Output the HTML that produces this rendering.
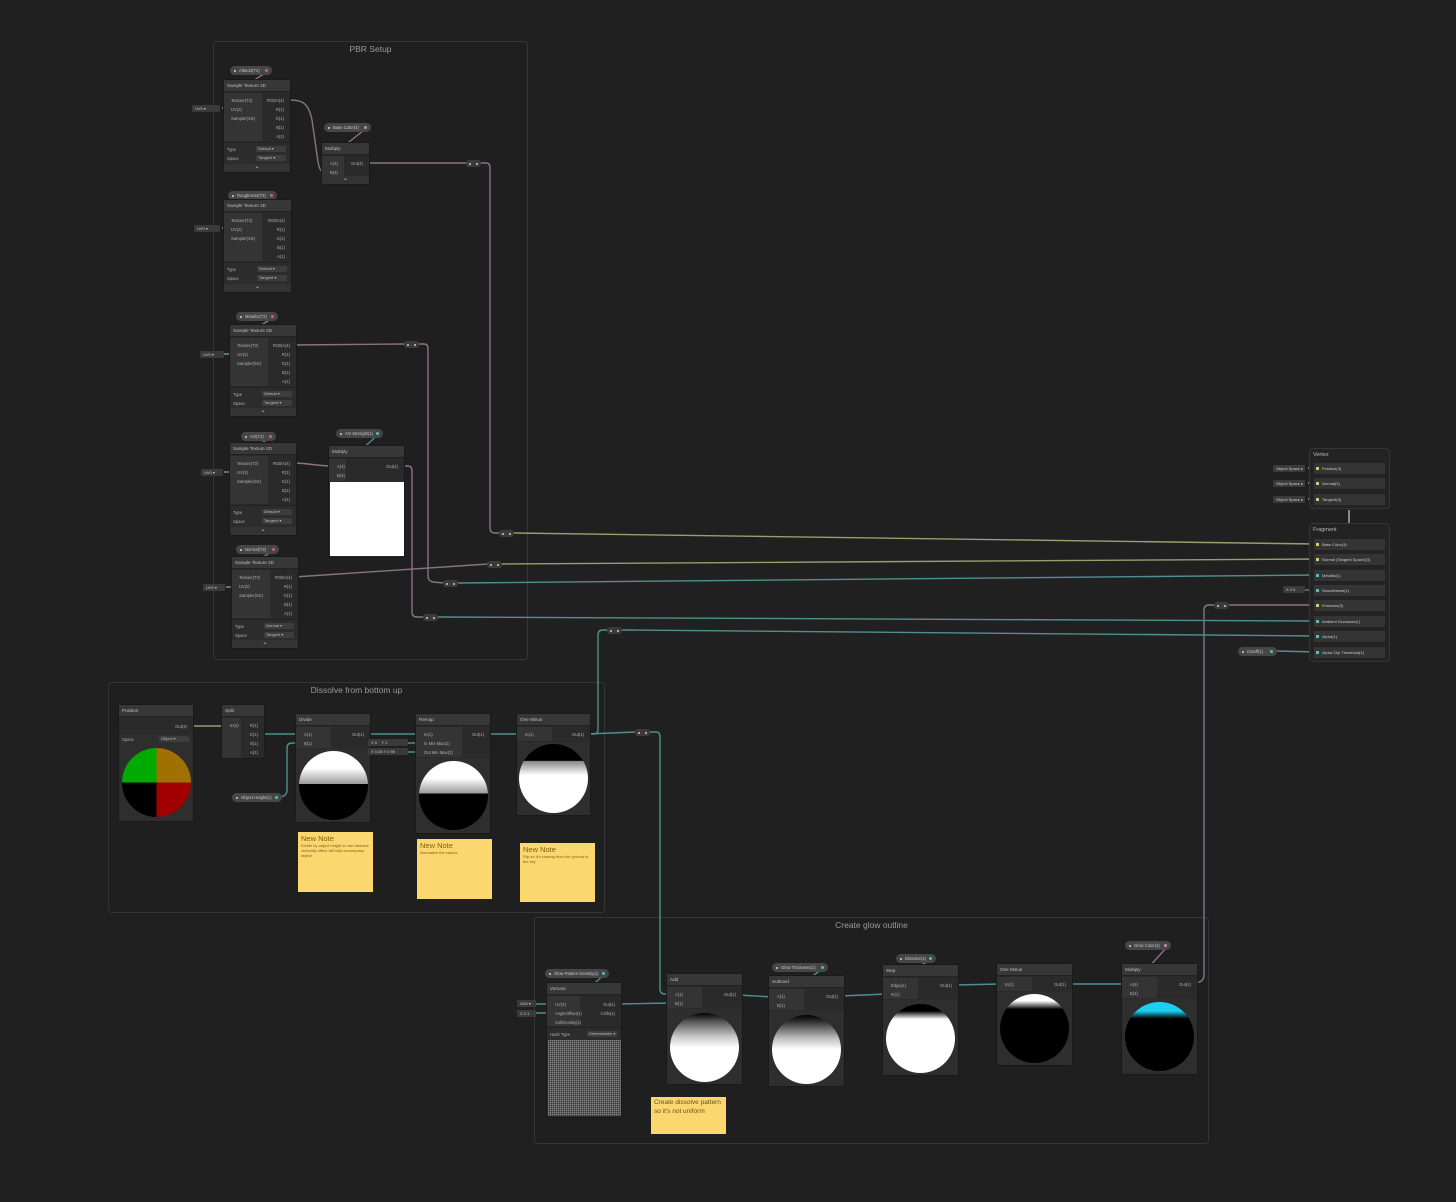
<!DOCTYPE html>
<html><head><meta charset="utf-8">
<style>
*{box-sizing:border-box;margin:0;padding:0}
body{width:1456px;height:1202px;background:#202020;position:relative;overflow:hidden;font-family:"Liberation Sans",sans-serif}
.g{position:absolute;border:1px solid #353535;border-radius:4px;background:#1f1f1f}
.g .gt{position:absolute;top:2px;left:0;right:0;text-align:center;color:#9a9a9a;font-size:8.5px}
.n{position:absolute;background:#2a2a2a;border-radius:2px;z-index:2;box-shadow:0 0 0 1px #191919}
.h{height:12px;background:#373737;color:#c0c0c0;font-size:4.6px;line-height:12px;padding-left:3px;border-bottom:1px solid #222}
.li{position:absolute;left:0;background:#343434}
.t{position:absolute;font-size:4.2px;color:#b0b0b0;white-space:nowrap;line-height:5px}
.r{text-align:right}
.opt{position:absolute;left:0;right:0;background:#2c2c2c;border-top:1px solid #222}
.dd{position:absolute;right:4px;width:30px;height:6px;background:#3d3d3d;border-radius:1px;font-size:4px;color:#bbb;line-height:6px;padding-left:2px}
.ch{position:absolute;left:0;right:0;bottom:0;height:8px;background:#333;color:#ccc;font-size:6px;text-align:center;line-height:7px}
.pl{position:absolute;height:9px;border-radius:4.5px;background:#464646;color:#c8c8c8;font-size:4.2px;line-height:9px;padding-left:9px;z-index:2;white-space:nowrap}
.pl:before{content:"";position:absolute;left:4px;top:3.5px;width:2px;height:2px;background:#8c8;}
.pl:after{content:"";position:absolute;right:4px;top:3px;width:3px;height:3px;border-radius:50%;background:var(--c,#c66)}
.v{position:absolute;height:7px;background:#3a3a3a;color:#ccc;font-size:4px;line-height:7px;padding-left:3px;z-index:2;border-radius:1px;white-space:nowrap}
.rr{position:absolute;width:15px;height:7px;background:#3b3b3b;border-radius:3px;z-index:2}
.rr:before,.rr:after{content:"";position:absolute;top:2.5px;width:2px;height:2px;background:#ccc;border-radius:50%}
.rr:before{left:3px}.rr:after{right:3px}
.pv{position:absolute;left:0;right:0;background:#2e2e2e}
.c{position:absolute;border-radius:50%;overflow:hidden}
.note{position:absolute;background:#fcd66f;z-index:2;color:#7a6220;padding:2px 3px}
.note b{font-weight:normal;font-size:7.5px;display:block;color:#806010}
.note i{font-style:normal;font-size:4px;display:block;line-height:5px}
.sl{position:absolute;left:1314px;width:71px;height:11px;background:#343434;z-index:2;font-size:4px;color:#ccc;line-height:11px;padding-left:8px}
.sl:before{content:"";position:absolute;left:2px;top:4px;width:3px;height:3px;background:var(--c,#cc6)}
svg{position:absolute;left:0;top:0;z-index:1}
</style></head><body>

<!-- groups -->
<div class="g" style="left:213px;top:41px;width:315px;height:619px"><div class="gt">PBR Setup</div></div>
<div class="g" style="left:108px;top:682px;width:497px;height:231px"><div class="gt">Dissolve from bottom up</div></div>
<div class="g" style="left:534px;top:917px;width:675px;height:227px"><div class="gt">Create glow outline</div></div>

<svg width="1456" height="1202" fill="none" stroke-width="1.4">
<g stroke="#8a7282">
<path d="M270 70 L226 98"/>
<path d="M286 100 C300 100 308 100 312 120 L318 162 C320 172 322 172 325 172"/>
<path d="M368 127 L326 160"/>
<path d="M365 163 L467 163 M481 163 L486 163 Q490 163 490 168 L490 528 Q490 533 495 533 L500 533"/>
<path d="M274 195 L226 218"/>
<path d="M276 316 L232 343"/>
<path d="M292 345 L405 344 M418 344 L424 344 Q428 344 428 349 L428 576 Q428 581 433 582 L444 583"/>
<path d="M273 436 L232 461"/>
<path d="M292 463 C310 463 315 466 333 466"/>
<path d="M400 466 L408 466 Q412 466 412 471 L412 612 Q412 617 417 617 L424 617"/>
<path d="M276 549 L234 575"/>
<path d="M294 577 L488 564"/>
<path d="M1193 983 Q1204 983 1204 975 L1204 610 Q1204 605 1209 605 L1214 605 M1229 605 L1316 605"/>
<path d="M1168 946 L1127 991"/>
</g>
<g stroke="#4f8f8f">
<path d="M380 433 L333 475"/>
<path d="M458 583 L1316 575"/>
<path d="M438 617 L1316 621"/>
<path d="M587 734 L594 734 Q598 734 598 729 L598 635 Q598 630 603 630 L608 630 M622 630 L1316 636"/>
<path d="M587 734 L635 732 M650 732 L656 732 Q660 732 660 737 L660 989 Q660 994 665 994 L671 994"/>
<path d="M1277 651 L1316 652"/>
<path d="M1305 590 L1316 590"/>
<path d="M260 734 L300 734"/>
<path d="M278 797 Q287 797 287 790 L287 748 Q287 743 292 743 L300 743"/>
<path d="M366 734 L420 734"/>
<path d="M486 734 L521 734"/>
<path d="M408 743 L420 743 M408 752 L420 752"/>
<path d="M617 1004 L671 1003"/>
<path d="M738 995 L773 997"/>
<path d="M840 996 L887 994"/>
<path d="M955 985 L1001 984"/>
<path d="M1068 984 L1126 984"/>
<path d="M606 973 L551 1022"/>
<path d="M825 967 L773 1005"/>
<path d="M933 958 L887 986"/>
<path d="M536 1004 L551 1004 M536 1013 L551 1013"/>
</g>
<g stroke="#9c9c6c">
<path d="M514 533 L1316 544"/>
<path d="M502 564 L1316 559"/>
<path d="M189 726 L226 726"/>
<path d="M1308 468 L1316 468 M1308 483 L1316 483 M1308 499 L1316 499"/>
</g>
<g stroke="#6a9a6a"><path d="M222 108 L228 108 M222 228 L228 228 M224 354 L234 354 M224 472 L234 472 M226 587 L236 587"/></g>
<path d="M1349 510 L1349 523" stroke="#888" stroke-width="2"/>
</svg>

<!-- reroutes -->
<div class="rr" style="left:466px;top:160px"></div>
<div class="rr" style="left:499px;top:530px"></div>
<div class="rr" style="left:404px;top:341px"></div>
<div class="rr" style="left:443px;top:580px"></div>
<div class="rr" style="left:423px;top:614px"></div>
<div class="rr" style="left:487px;top:561px"></div>
<div class="rr" style="left:1214px;top:602px"></div>
<div class="rr" style="left:607px;top:627px"></div>
<div class="rr" style="left:635px;top:729px"></div>

<!-- PBR nodes -->
<div class="pl" style="left:230px;top:66px;width:42px">Albedo(T2)</div>
<div class="v" style="left:192px;top:105px;width:28px">UV0 ▾</div>
<div class="n" style="left:224px;top:80px;width:66px;height:92px"><div class="h">Sample Texture 2D</div>
<div class="li" style="top:13px;width:38px;height:48px"></div>
<div class="t" style="left:7px;top:18px">Texture(T2)</div><div class="t" style="left:7px;top:27px">UV(2)</div><div class="t" style="left:7px;top:36px">Sampler(SS)</div>
<div class="t r" style="right:6px;top:18px">RGBA(4)</div><div class="t r" style="right:6px;top:27px">R(1)</div><div class="t r" style="right:6px;top:36px">G(1)</div><div class="t r" style="right:6px;top:45px">B(1)</div><div class="t r" style="right:6px;top:54px">A(1)</div>
<div class="opt" style="top:62px;height:22px"><div class="t" style="left:3px;top:4px">Type</div><div class="dd" style="top:3px">Default ▾</div><div class="t" style="left:3px;top:13px">Space</div><div class="dd" style="top:12px">Tangent ▾</div></div>
<div class="ch">⌄</div></div>

<div class="pl" style="left:324px;top:123px;width:47px;--c:#c8a">Base Color(4)</div>
<div class="n" style="left:322px;top:143px;width:47px;height:41px"><div class="h">Multiply</div>
<div class="li" style="top:13px;width:22px;height:20px"></div>
<div class="t" style="left:8px;top:18px">A(4)</div><div class="t" style="left:8px;top:27px">B(4)</div><div class="t r" style="right:6px;top:18px">Out(4)</div><div class="ch">⌄</div></div>

<div class="pl" style="left:228px;top:191px;width:49px">Roughness(T2)</div>
<div class="v" style="left:194px;top:225px;width:26px">UV0 ▾</div>
<div class="n" style="left:224px;top:200px;width:67px;height:92px"><div class="h">Sample Texture 2D</div>
<div class="li" style="top:13px;width:38px;height:48px"></div>
<div class="t" style="left:7px;top:18px">Texture(T2)</div><div class="t" style="left:7px;top:27px">UV(2)</div><div class="t" style="left:7px;top:36px">Sampler(SS)</div>
<div class="t r" style="right:6px;top:18px">RGBA(4)</div><div class="t r" style="right:6px;top:27px">R(1)</div><div class="t r" style="right:6px;top:36px">G(1)</div><div class="t r" style="right:6px;top:45px">B(1)</div><div class="t r" style="right:6px;top:54px">A(1)</div>
<div class="opt" style="top:62px;height:22px"><div class="t" style="left:3px;top:4px">Type</div><div class="dd" style="top:3px">Default ▾</div><div class="t" style="left:3px;top:13px">Space</div><div class="dd" style="top:12px">Tangent ▾</div></div>
<div class="ch">⌄</div></div>

<div class="pl" style="left:236px;top:312px;width:42px">Metallic(T2)</div>
<div class="v" style="left:200px;top:351px;width:24px">UV0 ▾</div>
<div class="n" style="left:230px;top:325px;width:66px;height:91px"><div class="h">Sample Texture 2D</div>
<div class="li" style="top:13px;width:38px;height:48px"></div>
<div class="t" style="left:7px;top:18px">Texture(T2)</div><div class="t" style="left:7px;top:27px">UV(2)</div><div class="t" style="left:7px;top:36px">Sampler(SS)</div>
<div class="t r" style="right:6px;top:18px">RGBA(4)</div><div class="t r" style="right:6px;top:27px">R(1)</div><div class="t r" style="right:6px;top:36px">G(1)</div><div class="t r" style="right:6px;top:45px">B(1)</div><div class="t r" style="right:6px;top:54px">A(1)</div>
<div class="opt" style="top:62px;height:21px"><div class="t" style="left:3px;top:4px">Type</div><div class="dd" style="top:3px">Default ▾</div><div class="t" style="left:3px;top:13px">Space</div><div class="dd" style="top:12px">Tangent ▾</div></div>
<div class="ch">⌄</div></div>

<div class="pl" style="left:241px;top:432px;width:35px">AO(T2)</div>
<div class="v" style="left:201px;top:469px;width:22px">UV0 ▾</div>
<div class="n" style="left:230px;top:443px;width:66px;height:92px"><div class="h">Sample Texture 2D</div>
<div class="li" style="top:13px;width:38px;height:48px"></div>
<div class="t" style="left:7px;top:18px">Texture(T2)</div><div class="t" style="left:7px;top:27px">UV(2)</div><div class="t" style="left:7px;top:36px">Sampler(SS)</div>
<div class="t r" style="right:6px;top:18px">RGBA(4)</div><div class="t r" style="right:6px;top:27px">R(1)</div><div class="t r" style="right:6px;top:36px">G(1)</div><div class="t r" style="right:6px;top:45px">B(1)</div><div class="t r" style="right:6px;top:54px">A(1)</div>
<div class="opt" style="top:62px;height:22px"><div class="t" style="left:3px;top:4px">Type</div><div class="dd" style="top:3px">Default ▾</div><div class="t" style="left:3px;top:13px">Space</div><div class="dd" style="top:12px">Tangent ▾</div></div>
<div class="ch">⌄</div></div>

<div class="pl" style="left:336px;top:429px;width:47px;--c:#5bb">AO Strength(1)</div>
<div class="n" style="left:329px;top:446px;width:75px;height:111px"><div class="h">Multiply</div>
<div class="li" style="top:13px;width:17px;height:22px"></div>
<div class="t" style="left:8px;top:18px">A(4)</div><div class="t" style="left:8px;top:27px">B(4)</div><div class="t r" style="right:6px;top:18px">Out(4)</div>
<div style="position:absolute;left:1px;top:36px;width:74px;height:74px;background:#fff"></div></div>

<div class="pl" style="left:236px;top:545px;width:43px">Normal(T2)</div>
<div class="v" style="left:203px;top:584px;width:22px">UV0 ▾</div>
<div class="n" style="left:232px;top:557px;width:66px;height:91px"><div class="h">Sample Texture 2D</div>
<div class="li" style="top:13px;width:38px;height:48px"></div>
<div class="t" style="left:7px;top:18px">Texture(T2)</div><div class="t" style="left:7px;top:27px">UV(2)</div><div class="t" style="left:7px;top:36px">Sampler(SS)</div>
<div class="t r" style="right:6px;top:18px">RGBA(4)</div><div class="t r" style="right:6px;top:27px">R(1)</div><div class="t r" style="right:6px;top:36px">G(1)</div><div class="t r" style="right:6px;top:45px">B(1)</div><div class="t r" style="right:6px;top:54px">A(1)</div>
<div class="opt" style="top:62px;height:21px"><div class="t" style="left:3px;top:4px">Type</div><div class="dd" style="top:3px">Normal ▾</div><div class="t" style="left:3px;top:13px">Space</div><div class="dd" style="top:12px">Tangent ▾</div></div>
<div class="ch">⌄</div></div>

<!-- Master stack -->
<div class="g" style="left:1309px;top:448px;width:81px;height:61px;background:#232323;z-index:2"><div class="t" style="left:3px;top:4px;font-size:5.5px;color:#bbb">Vertex</div></div>
<div class="g" style="left:1309px;top:523px;width:81px;height:139px;background:#232323;z-index:2"><div class="t" style="left:3px;top:4px;font-size:5.5px;color:#bbb">Fragment</div></div>
<div class="sl" style="top:463px">Position(3)</div>
<div class="sl" style="top:478px">Normal(3)</div>
<div class="sl" style="top:494px">Tangent(3)</div>
<div class="v" style="left:1273px;top:465px;width:32px">Object Space ▸</div>
<div class="v" style="left:1273px;top:480px;width:32px">Object Space ▸</div>
<div class="v" style="left:1273px;top:496px;width:32px">Object Space ▸</div>
<div class="sl" style="top:539px">Base Color(3)</div>
<div class="sl" style="top:554px">Normal (Tangent Space)(3)</div>
<div class="sl" style="top:570px;--c:#5bb">Metallic(1)</div>
<div class="sl" style="top:585px;--c:#5bb">Smoothness(1)</div>
<div class="sl" style="top:600px">Emission(3)</div>
<div class="sl" style="top:616px;--c:#5bb">Ambient Occlusion(1)</div>
<div class="sl" style="top:631px;--c:#5bb">Alpha(1)</div>
<div class="sl" style="top:647px;--c:#5bb">Alpha Clip Threshold(1)</div>
<div class="v" style="left:1283px;top:586px;width:22px">X 0.5</div>
<div class="pl" style="left:1238px;top:647px;width:39px;--c:#5bb">Cutoff(1)</div>

<!-- Dissolve -->
<div class="n" style="left:119px;top:705px;width:74px;height:116px"><div class="h">Position</div>
<div class="t r" style="right:6px;top:19px">Out(3)</div>
<div class="pv" style="top:29px;height:87px"><div class="t" style="left:3px;top:3px">Space</div><div class="dd" style="top:2px">Object ▾</div>
<div class="c" style="left:3px;top:14px;width:69px;height:69px;background:conic-gradient(from 0deg,#a07000 0 90deg,#a00000 90deg 180deg,#000 180deg 270deg,#0a0 270deg 360deg)"></div></div></div>

<div class="n" style="left:222px;top:705px;width:42px;height:53px"><div class="h">Split</div>
<div class="li" style="top:13px;width:19px;height:40px"></div>
<div class="t" style="left:8px;top:18px">In(4)</div>
<div class="t r" style="right:6px;top:18px">R(1)</div><div class="t r" style="right:6px;top:27px">G(1)</div><div class="t r" style="right:6px;top:36px">B(1)</div><div class="t r" style="right:6px;top:45px">A(1)</div></div>

<div class="pl" style="left:232px;top:793px;width:50px;--c:#5bb">Object Height(1)</div>

<div class="n" style="left:296px;top:714px;width:74px;height:108px"><div class="h">Divide</div>
<div class="li" style="top:13px;width:35px;height:21px"></div>
<div class="t" style="left:8px;top:18px">A(1)</div><div class="t" style="left:8px;top:27px">B(1)</div><div class="t r" style="right:6px;top:18px">Out(1)</div>
<div class="pv" style="top:35px;height:73px"><div class="c" style="left:3px;top:2px;width:69px;height:69px;background:linear-gradient(#fff 0,#fff 25%,#999 48%,#000 48%)"></div></div></div>

<div class="v" style="left:368px;top:739px;width:40px">X 0 &nbsp;&nbsp; Y 1</div>
<div class="v" style="left:368px;top:748px;width:40px">X 0.05 Y 0.95</div>

<div class="n" style="left:416px;top:714px;width:74px;height:119px"><div class="h">Remap</div>
<div class="li" style="top:13px;width:46px;height:30px"></div>
<div class="t" style="left:8px;top:18px">In(1)</div><div class="t" style="left:8px;top:27px">In Min Max(2)</div><div class="t" style="left:8px;top:36px">Out Min Max(2)</div><div class="t r" style="right:6px;top:18px">Out(1)</div>
<div class="pv" style="top:44px;height:75px"><div class="c" style="left:3px;top:3px;width:69px;height:69px;background:linear-gradient(#fff 0,#fff 25%,#999 47%,#000 47%)"></div></div></div>

<div class="n" style="left:517px;top:714px;width:73px;height:101px"><div class="h">One Minus</div>
<div class="li" style="top:13px;width:35px;height:14px"></div>
<div class="t" style="left:8px;top:18px">In(1)</div><div class="t r" style="right:6px;top:18px">Out(1)</div>
<div class="pv" style="top:28px;height:73px"><div class="c" style="left:2px;top:2px;width:69px;height:69px;background:linear-gradient(#000 0,#000 24%,#888 25%,#fff 45%)"></div></div></div>

<div class="note" style="left:298px;top:832px;width:75px;height:60px"><b>New Note</b><i>Divide by object height so the dissolve vertically effect will fully encompass object</i></div>
<div class="note" style="left:417px;top:839px;width:75px;height:60px"><b>New Note</b><i>Normalize the values</i></div>
<div class="note" style="left:520px;top:843px;width:75px;height:59px"><b>New Note</b><i>Flip so it's coming from the ground to the sky</i></div>

<!-- Glow -->
<div class="pl" style="left:545px;top:969px;width:64px;--c:#5bb">Glow Pattern Density(1)</div>
<div class="v" style="left:517px;top:1000px;width:19px">UV0 ▾</div>
<div class="v" style="left:517px;top:1010px;width:19px">X 2.1</div>
<div class="n" style="left:547px;top:983px;width:74px;height:134px"><div class="h">Voronoi</div>
<div class="li" style="top:13px;width:33px;height:30px"></div>
<div class="t" style="left:8px;top:19px">UV(2)</div><div class="t" style="left:8px;top:28px">AngleOffset(1)</div><div class="t" style="left:8px;top:37px">CellDensity(1)</div>
<div class="t r" style="right:6px;top:19px">Out(1)</div><div class="t r" style="right:6px;top:28px">Cells(1)</div>
<div class="opt" style="top:44px;height:12px"><div class="t" style="left:3px;top:4px">Hash Type</div><div class="dd" style="top:3px">Deterministic ▾</div></div>
<div style="position:absolute;left:1px;top:57px;width:73px;height:76px;background:#bbb;background-image:repeating-linear-gradient(90deg,#ddd 0 1px,#999 1px 2px),repeating-linear-gradient(#ccc 0 1px,#888 1px 2px);background-blend-mode:multiply"></div></div>

<div class="n" style="left:667px;top:974px;width:75px;height:110px"><div class="h">Add</div>
<div class="li" style="top:13px;width:35px;height:21px"></div>
<div class="t" style="left:8px;top:18px">A(1)</div><div class="t" style="left:8px;top:27px">B(1)</div><div class="t r" style="right:6px;top:18px">Out(1)</div>
<div class="pv" style="top:35px;height:75px"><div class="c" style="left:3px;top:4px;width:69px;height:69px;background:linear-gradient(#000 0,#555 12%,#ccc 35%,#fff 50%)"></div></div></div>

<div class="pl" style="left:772px;top:963px;width:56px;--c:#5bb">Glow Thickness(1)</div>
<div class="n" style="left:769px;top:976px;width:75px;height:110px"><div class="h">Subtract</div>
<div class="li" style="top:13px;width:35px;height:21px"></div>
<div class="t" style="left:8px;top:18px">A(1)</div><div class="t" style="left:8px;top:27px">B(1)</div><div class="t r" style="right:6px;top:18px">Out(1)</div>
<div class="pv" style="top:35px;height:75px"><div class="c" style="left:3px;top:4px;width:69px;height:69px;background:linear-gradient(#000 0,#333 10%,#bbb 33%,#fff 50%)"></div></div></div>

<div class="pl" style="left:896px;top:954px;width:40px;--c:#5bb">Dissolve(1)</div>
<div class="n" style="left:883px;top:965px;width:75px;height:110px"><div class="h">Step</div>
<div class="li" style="top:13px;width:35px;height:21px"></div>
<div class="t" style="left:8px;top:18px">Edge(1)</div><div class="t" style="left:8px;top:27px">In(1)</div><div class="t r" style="right:6px;top:18px">Out(1)</div>
<div class="pv" style="top:35px;height:75px"><div class="c" style="left:3px;top:4px;width:69px;height:69px;background:linear-gradient(#000 0,#000 10%,#fff 22%)"></div></div></div>

<div class="n" style="left:997px;top:964px;width:75px;height:101px"><div class="h">One Minus</div>
<div class="li" style="top:13px;width:35px;height:14px"></div>
<div class="t" style="left:8px;top:18px">In(1)</div><div class="t r" style="right:6px;top:18px">Out(1)</div>
<div class="pv" style="top:28px;height:73px"><div class="c" style="left:3px;top:2px;width:69px;height:69px;background:linear-gradient(#fff 0,#fff 10%,#000 22%)"></div></div></div>

<div class="pl" style="left:1125px;top:941px;width:46px;--c:#c8a">Glow Color(4)</div>
<div class="n" style="left:1122px;top:964px;width:75px;height:110px"><div class="h">Multiply</div>
<div class="li" style="top:13px;width:35px;height:21px"></div>
<div class="t" style="left:8px;top:18px">A(4)</div><div class="t" style="left:8px;top:27px">B(4)</div><div class="t r" style="right:6px;top:18px">Out(4)</div>
<div class="pv" style="top:35px;height:75px"><div class="c" style="left:3px;top:3px;width:69px;height:69px;background:linear-gradient(#1cd0f0 0,#1cd0f0 13%,#000 24%)"></div></div></div>

<div class="note" style="left:651px;top:1097px;width:75px;height:37px"><i style="font-size:6.5px;line-height:8.5px;color:#6a5018">Create dissolve pattern so it's not uniform</i></div>

</body></html>
